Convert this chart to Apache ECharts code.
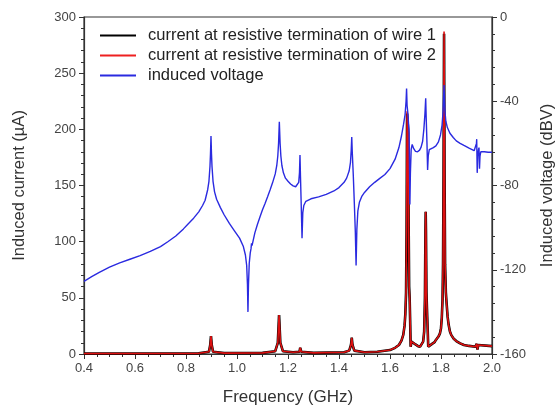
<!DOCTYPE html>
<html>
<head>
<meta charset="utf-8">
<script src="https://cdn.jsdelivr.net/npm/echarts@6/dist/echarts.min.js"></script>
<style>html,body{margin:0;padding:0;background:#fff}#c{width:555px;height:408px}</style>
</head>
<body>
<div id="c"></div>
<script>
// Frequency (GHz) and induced voltage (dBV)
const voltFreq = [0.40,0.43,0.46,0.50,0.54,0.58,0.62,0.66,0.70,0.73,0.76,0.79,0.81,0.83,0.85,0.865,0.875,0.885,0.890,0.894,0.896,0.898,0.900,0.902,0.906,0.912,0.92,0.935,0.95,0.97,0.99,1.01,1.025,1.033,1.038,1.041,1.043,1.045,1.048,1.052,1.055,1.057,1.059,1.07,1.08,1.09,1.10,1.11,1.12,1.13,1.14,1.15,1.156,1.160,1.163,1.166,1.169,1.172,1.176,1.182,1.19,1.20,1.21,1.22,1.23,1.237,1.242,1.245,1.247,1.249,1.252,1.255,1.258,1.262,1.27,1.29,1.32,1.35,1.38,1.40,1.42,1.43,1.44,1.445,1.448,1.450,1.452,1.456,1.460,1.464,1.467,1.470,1.474,1.48,1.49,1.50,1.52,1.54,1.56,1.58,1.60,1.62,1.635,1.645,1.653,1.659,1.663,1.665,1.667,1.670,1.673,1.675,1.678,1.680,1.683,1.687,1.693,1.70,1.708,1.716,1.722,1.728,1.733,1.737,1.740,1.742,1.745,1.7475,1.750,1.754,1.76,1.77,1.78,1.79,1.798,1.804,1.808,1.812,1.815,1.819,1.825,1.835,1.848,1.86,1.875,1.89,1.91,1.93,1.937,1.939,1.940,1.942,1.944,1.947,1.949,1.951,1.953,1.956,1.97,1.985,2.00];
const voltage = [-125.5,-123.3,-121.2,-118.8,-116.7,-115,-113.3,-111.3,-109,-106.6,-104,-100.6,-98,-95.5,-92.5,-89.5,-87,-82,-78,-71,-65,-56.5,-65,-71,-78,-83,-86.5,-90.5,-94,-98,-101.5,-105,-109,-113,-118,-127,-140,-127,-117,-112,-110,-107.5,-108.5,-102.5,-98.5,-95,-91.5,-88.5,-85.3,-82,-78.5,-74.5,-70.5,-66,-60,-49.7,-60,-66,-70.5,-74,-76.5,-78,-79.3,-80.2,-80.6,-80.3,-78.5,-74,-65.5,-76,-90,-105,-93,-89.5,-87.5,-86.3,-85.4,-84.2,-82.6,-81,-78.5,-76.5,-73,-69,-63,-57,-64,-75,-88,-102,-118,-101,-92,-88,-85,-83.3,-80.6,-78.5,-76.6,-74.8,-72,-67.5,-62,-56.5,-51,-46.5,-40,-34,-42,-45.5,-46,-55,-89,-74,-63,-60.5,-62.5,-63.8,-64,-63.2,-61.8,-59,-53,-46,-38.6,-48,-60,-72.6,-66,-63,-62.5,-62,-61.2,-59.3,-56,-51.5,-45,-32.3,-44,-49.5,-52.5,-55.2,-57.2,-58.8,-60,-61,-62.3,-63.5,-64,-60,-58,-74,-66,-63,-62,-72,-66,-64,-64,-64.2,-64.2];

// Frequency (GHz) and induced currents (µA)
const curFreq = [0.40,0.85,0.89,0.895,0.898,0.901,0.906,0.95,1.10,1.15,1.160,1.165,1.170,1.18,1.22,1.245,1.248,1.252,1.30,1.42,1.44,1.447,1.450,1.453,1.46,1.50,1.55,1.60,1.62,1.635,1.645,1.652,1.657,1.660,1.663,1.665,1.667,1.671,1.673,1.675,1.677,1.679,1.681,1.684,1.69,1.70,1.71,1.718,1.725,1.730,1.734,1.737,1.739,1.740,1.741,1.743,1.745,1.748,1.750,1.755,1.765,1.775,1.78,1.79,1.796,1.80,1.803,1.806,1.808,1.810,1.812,1.814,1.816,1.819,1.822,1.826,1.83,1.835,1.84,1.85,1.86,1.875,1.89,1.91,1.935,1.940,1.943,1.946,1.95,2.00];
const current1 = [0.3,0.6,2,8,16,8,2,0.8,1,2.5,10,34.7,10,2.5,1.5,2,5.6,2,1,1.5,3,8,14.5,8,3,1.5,2,3.5,5.5,8,12,17,25,35,55,110,214,200,120,60,50,30,6.5,11,11,8.5,7,6.5,8,11,20,50,110,126.7,110,55,40,20,6.5,7.5,9,10.5,12.5,15.5,18.4,23,32,48,80,160,285,160,80,55,45,33,26,20,17,13.5,11.5,9.5,8,7.2,6.5,9,4,8,6.5,7];
const current2 = [0.3,0.6,2,8,16,8,2,0.8,1,2.5,10,34.7,10,2.5,1.5,2,5.6,2,1,1.5,3,8,14.5,8,3,1.5,2,3.5,5.5,8,12,17,25,35,55,110,216,200,120,60,50,30,6.5,11,11,8.5,7,6.5,8,11,20,50,110,126.7,110,55,40,20,6.5,7.5,9,10.5,12.5,15.5,18.4,23,32,48,80,160,287,160,80,55,45,33,26,20,17,13.5,11.5,9.5,8,7.2,6.5,9,4,8,6.5,7];

const seriesNames = ['current at resistive termination of wire 1','current at resistive termination of wire 2','induced voltage'];

const pair = (xs, ys) => xs.map((x, i) => [x, ys[i]]);
const font = 'Liberation Sans, Arial, sans-serif';
const axisCol = '#333';

const chart = echarts.init(document.getElementById('c'), null, {renderer: 'canvas'});
chart.setOption({
  animation: false,
  backgroundColor: '#fff',
  grid: {left: 84, right: 63, top: 17, bottom: 54, containLabel: false, outerBoundsMode: 'none',
         show: true, borderColor: axisCol, borderWidth: 1.2, backgroundColor: 'transparent'},
  legend: {
    orient: 'vertical', left: 95, top: 22, itemGap: 3, itemWidth: 36, itemHeight: 2,
    icon: 'rect',
    textStyle: {fontFamily: font, fontSize: 16.5, color: '#222', padding: [0, 0, 0, 7]},
    data: seriesNames
  },
  xAxis: {
    type: 'value', min: 0.4, max: 2.0, interval: 0.2,
    name: 'Frequency (GHz)', nameLocation: 'middle', nameGap: 35,
    nameTextStyle: {fontFamily: font, fontSize: 17, color: '#333'},
    axisLine: {lineStyle: {color: axisCol, width: 1.2}},
    axisTick: {length: 5, lineStyle: {color: axisCol}},
    minorTick: {show: true, splitNumber: 4, length: 3, lineStyle: {color: axisCol}},
    splitLine: {show: false},
    axisLabel: {fontFamily: font, fontSize: 13, color: '#444', margin: 8, formatter: v => v.toFixed(1)}
  },
  yAxis: [{
    type: 'value', min: 0, max: 300, interval: 50, position: 'left',
    name: 'Induced current (µA)', nameLocation: 'middle', nameGap: 56,
    nameTextStyle: {fontFamily: font, fontSize: 16.5, color: '#333'},
    axisLine: {show: true, lineStyle: {color: axisCol, width: 1.2}},
    axisTick: {show: true, length: 5, lineStyle: {color: axisCol}},
    minorTick: {show: true, splitNumber: 5, length: 3, lineStyle: {color: axisCol}},
    splitLine: {show: false},
    axisLabel: {fontFamily: font, fontSize: 13, color: '#444', margin: 8}
  }, {
    type: 'value', min: -160, max: 0, interval: 40, position: 'right',
    name: 'Induced voltage (dBV)', nameLocation: 'middle', nameGap: 47, nameRotate: 90,
    nameTextStyle: {fontFamily: font, fontSize: 16.5, color: '#333'},
    axisLine: {show: true, lineStyle: {color: axisCol, width: 1.2}},
    axisTick: {show: true, length: 5, lineStyle: {color: axisCol}},
    minorTick: {show: true, splitNumber: 5, length: 3, lineStyle: {color: axisCol}},
    splitLine: {show: false},
    axisLabel: {fontFamily: font, fontSize: 13, color: '#444', margin: 8}
  }],
  series: [{
    name: seriesNames[0], type: 'line', yAxisIndex: 0, showSymbol: false, symbol: 'none',
    data: pair(curFreq, current1), lineStyle: {color: '#000', width: 2.6}, itemStyle: {color: '#000'}, z: 2
  }, {
    name: seriesNames[1], type: 'line', yAxisIndex: 0, showSymbol: false, symbol: 'none',
    data: pair(curFreq, current2), lineStyle: {color: '#dd1010', width: 1.6}, itemStyle: {color: '#ee2020'}, z: 3
  }, {
    name: seriesNames[2], type: 'line', yAxisIndex: 1, showSymbol: false, symbol: 'none',
    data: pair(voltFreq, voltage), lineStyle: {color: '#2a2ae0', width: 1.4}, itemStyle: {color: '#2a2ae0'}, z: 4
  }]
});
</script>
</body>
</html>
